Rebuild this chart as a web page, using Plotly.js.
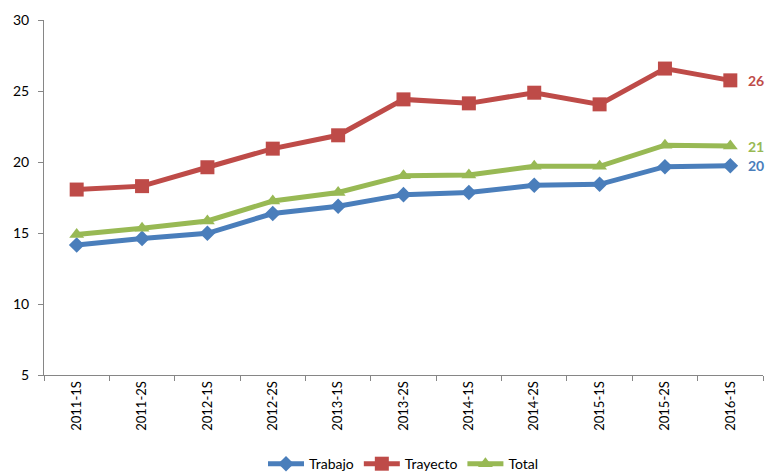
<!DOCTYPE html>
<html>
<head>
<meta charset="utf-8">
<script src="https://cdn.plot.ly/plotly-3.0.1.min.js"></script>
<style>html,body{margin:0;padding:0;background:#fff;}#chart{width:765px;height:476px;}</style>
</head>
<body>
<div id="chart"></div>
<script>
const categories = ['2011-1S','2011-2S','2012-1S','2012-2S','2013-1S','2013-2S','2014-1S','2014-2S','2015-1S','2015-2S','2016-1S'];
const trabajo  = [14.15, 14.62, 14.98, 16.37, 16.88, 17.70, 17.85, 18.36, 18.43, 19.67, 19.74];
const trayecto = [18.06, 18.30, 19.63, 20.94, 21.88, 24.41, 24.13, 24.88, 24.06, 26.58, 25.75];
const total    = [14.90, 15.33, 15.85, 17.25, 17.85, 19.04, 19.08, 19.70, 19.70, 21.18, 21.12];
const endLabels = ['20', '26', '21'];
const seriesNames = ['Trabajo', 'Trayecto', 'Total'];
const yTicks = [5, 10, 15, 20, 25, 30];

const colors = ['#4A7EBB', '#BE4B48', '#98B954'];
const symbols = ['diamond', 'square', 'triangle-up'];
const sizes = [12, 14, 13];
const series = [trabajo, trayecto, total];

const traces = series.map((ys, i) => ({
  type: 'scatter', mode: 'lines+markers', name: seriesNames[i],
  x: categories, y: ys,
  line: {color: colors[i], width: 5},
  marker: {color: colors[i], symbol: symbols[i], size: sizes[i]}
}));

const last = categories.length - 1;
const annotations = series.map((ys, i) => ({
  x: categories[last], y: ys[last], xref: 'x', yref: 'y',
  text: '<b>' + endLabels[i] + '</b>', showarrow: false,
  xanchor: 'left', xshift: 16,
  font: {family: 'Lato, sans-serif', size: 14, color: colors[i]}
}));

const layout = {
  width: 765, height: 476,
  margin: {l: 44, r: 2, t: 20, b: 101},
  paper_bgcolor: '#fff', plot_bgcolor: '#fff',
  font: {family: 'Lato, sans-serif', size: 13, color: '#000'},
  showlegend: true,
  legend: {orientation: 'h', x: 0.5, xanchor: 'center', yref: 'container', y: 0.025, yanchor: 'middle',
           font: {size: 14}, itemwidth: 36, tracegroupgap: 0},
  xaxis: {type: 'category', tickson: 'boundaries', ticks: 'outside', ticklen: 5,
          tickcolor: '#868686', showline: true, linecolor: '#868686', linewidth: 1,
          showgrid: false, zeroline: false, tickangle: -90, tickfont: {size: 13},
          range: [-0.5, last + 0.5], fixedrange: true, automargin: false},
  yaxis: {range: [5, 30], tickvals: yTicks, ticks: 'outside', ticklen: 5,
          tickcolor: '#868686', showline: true, linecolor: '#868686', linewidth: 1,
          showgrid: false, zeroline: false, tickfont: {size: 14}, ticklabelstandoff: 6,
          automargin: false},
  annotations: annotations
};

Plotly.newPlot('chart', traces, layout, {displayModeBar: false, staticPlot: true});
</script>
</body>
</html>
